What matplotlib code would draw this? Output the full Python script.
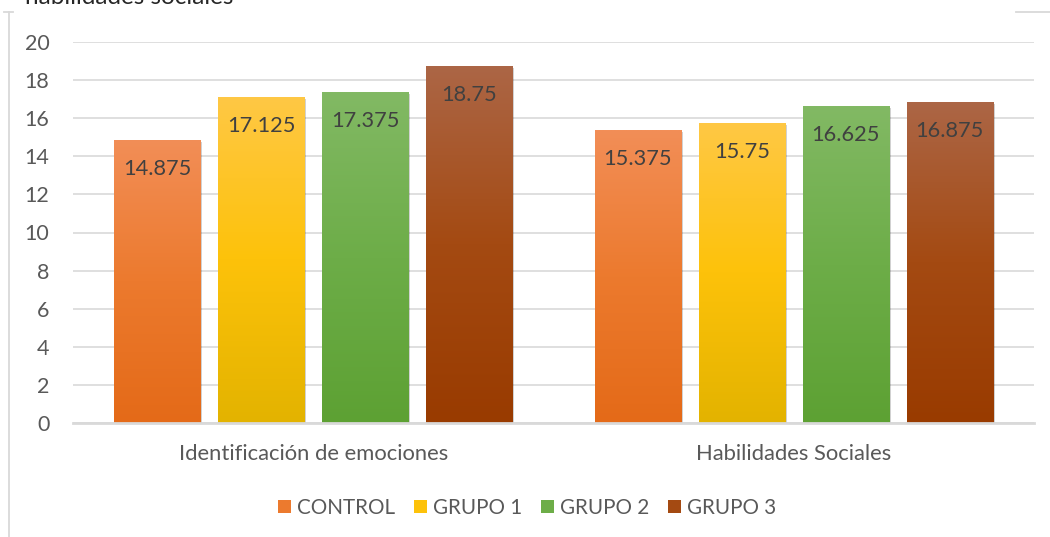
import numpy as np
import matplotlib
matplotlib.use("Agg")
import matplotlib.pyplot as plt
from matplotlib.patches import Patch
from matplotlib.colors import LinearSegmentedColormap
import matplotlib.patheffects as pe

plt.rcParams['font.family'] = ['Lato', 'DejaVu Sans']

categories = ["Identificación de emociones", "Habilidades Sociales"]
series = ["CONTROL", "GRUPO 1", "GRUPO 2", "GRUPO 3"]
values = {
    "CONTROL": [14.875, 15.375],
    "GRUPO 1": [17.125, 15.75],
    "GRUPO 2": [17.375, 16.625],
    "GRUPO 3": [18.75, 16.875],
}
yticks = [0, 2, 4, 6, 8, 10, 12, 14, 16, 18, 20]
title_text = "habilidades sociales"

grad = {
    "CONTROL": ("#F28E57", "#EC7A2E", "#E46A18"),
    "GRUPO 1": ("#FFC845", "#FDC20A", "#E3B300"),
    "GRUPO 2": ("#82B964", "#6DAD48", "#5DA133"),
    "GRUPO 3": ("#AC6646", "#A44A12", "#993B00"),
}
solid = {k: v[1] for k, v in grad.items()}

W, H = 1050, 537
fig = plt.figure(figsize=(W / 100, H / 100), dpi=100)
ax = fig.add_axes([73 / W, 1 - 423 / H, (1034 - 73) / W, (423 - 42) / H])

x = np.arange(len(categories))
width = 0.179
step = 0.2165
offsets = (np.arange(len(series)) - 1.5) * step
text_col = "#595959"

for i, s in enumerate(series):
    cmap = LinearSegmentedColormap.from_list(s, [grad[s][2], grad[s][1], grad[s][0]])
    bars = ax.bar(x + offsets[i], values[s], width, color=solid[s], zorder=3,
                  linewidth=0)
    for b, v in zip(bars, values[s]):
        b.set_path_effects([pe.SimplePatchShadow(offset=(1.5, -1.5), shadow_rgbFace="#000000",
                                                 alpha=0.18), pe.Normal()])
        x0, w = b.get_x(), b.get_width()
        g = np.linspace(0, 1, 256).reshape(-1, 1)
        im = ax.imshow(g, cmap=cmap, origin="lower", aspect="auto",
                       extent=[x0, x0 + w, 0, v], zorder=4, interpolation="bilinear")
        im.set_clip_path(b)
        ax.annotate(f"{v:g}", xy=(x0 + w / 2, v), xytext=(0, -21),
                    textcoords="offset points", ha="center", va="center",
                    fontsize=15.7, color="#404040", zorder=6)

ax.set_xlim(-0.5, 1.5)
ax.set_ylim(0, 20)
ax.set_yticks(yticks)
ax.set_xticks(x)
ax.set_xticklabels(categories)
ax.grid(axis="y", color="#D9D9D9", linewidth=1.2, zorder=0)
ax.set_axisbelow(True)
for sp in ["top", "right", "left"]:
    ax.spines[sp].set_visible(False)
ax.spines["bottom"].set_color("#D9D9D9")
ax.spines["bottom"].set_linewidth(2)
ax.spines["bottom"].set_zorder(5)
ax.tick_params(axis="y", length=0, pad=17, labelsize=15.5, labelcolor=text_col)
ax.tick_params(axis="x", length=0, pad=15, labelsize=15.8, labelcolor=text_col)

handles = [Patch(facecolor=solid[s], edgecolor="none", label=s) for s in series]
fig.legend(handles=handles, loc="center", bbox_to_anchor=(0.502, 1 - 508 / H),
           ncol=4, frameon=False, fontsize=14.9, handlelength=0.62, handleheight=0.62,
           handletextpad=0.3, columnspacing=0.9, labelcolor=text_col)

# chart outer frame pieces
fc = "#D9D9D9"
fig.add_artist(plt.Line2D([9 / W, 9 / W], [0, 1 - 12 / H], transform=fig.transFigure,
                          color=fc, linewidth=1.3))
fig.add_artist(plt.Line2D([4 / W, 13 / W], [1 - 12 / H, 1 - 12 / H], transform=fig.transFigure,
                          color=fc, linewidth=1.3))
fig.add_artist(plt.Line2D([1016 / W, 1], [1 - 12 / H, 1 - 12 / H], transform=fig.transFigure,
                          color=fc, linewidth=1.3))

fig.text(25 / W, 1 - 4 / H, title_text, ha="left", va="baseline", fontsize=17.5,
         color="#262626")

fig.savefig("out.png", dpi=100)
